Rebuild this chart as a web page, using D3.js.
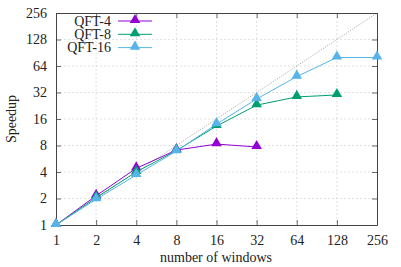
<html>
<head>
<meta charset="utf-8">
<script src="https://d3js.org/d3.v7.min.js"></script>
<style>
  body { margin: 0; background: white; }
  text { font-family: "Liberation Serif", "DejaVu Serif", serif; font-size: 14px; fill: #222; }
</style>
</head>
<body>
<div id="chart"></div>
<script>
var width = 401, height = 267

// data
var windows = [1, 2, 4, 8, 16, 32, 64, 128, 256]
var ticksY = [1, 2, 4, 8, 16, 32, 64, 128, 256]
var qft4 = [1, 2.15, 4.4, 7.1, 8.3, 7.7]
var qft8 = [1, 2.05, 4.0, 7.0, 13.3, 23, 28.5, 30]
var qft16 = [1, 1.96, 3.7, 6.9, 14.0, 27, 48.5, 80, 80]

var series = [
  { name: 'QFT-4', color: '#9400d3', values: qft4 },
  { name: 'QFT-8', color: '#009e73', values: qft8 },
  { name: 'QFT-16', color: '#56b4e9', values: qft16 }
]

var padL = 56, padR = 377, padT = 13, padB = 225

var x = d3.scaleLog().base(2).domain([1, 256]).range([padL, padR])
var y = d3.scaleLog().base(2).domain([1, 256]).range([padB, padT])

const svg = d3.select('#chart')
  .append('svg')
  .attr('width', width)
  .attr('height', height)

// grid
svg.append('g').selectAll('line').data(windows.slice(1, -1)).enter().append('line')
  .attr('x1', d => x(d)).attr('x2', d => x(d))
  .attr('y1', padT).attr('y2', padB)
  .attr('stroke', '#ccc').attr('stroke-width', 0.6).attr('stroke-dasharray', '2,2')
svg.append('g').selectAll('line').data(ticksY.slice(1, -1)).enter().append('line')
  .attr('y1', d => y(d)).attr('y2', d => y(d))
  .attr('x1', padL).attr('x2', padR)
  .attr('stroke', '#ccc').attr('stroke-width', 0.6).attr('stroke-dasharray', '2,2')

// ideal speedup
svg.append('line')
  .attr('x1', x(1)).attr('y1', y(1)).attr('x2', x(256)).attr('y2', y(256))
  .attr('stroke', '#888').attr('stroke-width', 0.8).attr('stroke-dasharray', '1,1.5')

// axes (gnuplot style, ticks inside and mirrored)
var tk = 5
var xb = svg.append('g').attr('transform', 'translate(0,' + padB + ')')
  .call(d3.axisBottom(x).tickValues(windows).tickFormat(d3.format('d')).tickSizeInner(-tk).tickSizeOuter(0).tickPadding(10))
var xt = svg.append('g').attr('transform', 'translate(0,' + padT + ')')
  .call(d3.axisTop(x).tickValues(windows).tickFormat('').tickSizeInner(-tk).tickSizeOuter(0))
var yl = svg.append('g').attr('transform', 'translate(' + padL + ',0)')
  .call(d3.axisLeft(y).tickValues(ticksY).tickFormat(d3.format('d')).tickSizeInner(-tk).tickSizeOuter(0).tickPadding(9))
var yr = svg.append('g').attr('transform', 'translate(' + padR + ',0)')
  .call(d3.axisRight(y).tickValues(ticksY).tickFormat('').tickSizeInner(-tk).tickSizeOuter(0))
;[xb, xt, yl, yr].forEach(function(g) {
  g.selectAll('path').attr('stroke', '#444').attr('stroke-width', 1)
  g.selectAll('line').attr('stroke', '#444').attr('stroke-width', 0.8)
  g.selectAll('text').attr('font-family', '"Liberation Serif", serif').attr('font-size', 13.5).attr('fill', '#222')
})

// series
var tri = d3.symbol().type(d3.symbolTriangle).size(48)
series.forEach(function(s) {
  var pts = s.values.map((v, i) => [windows[i], v])
  svg.append('path').datum(pts)
    .attr('fill', 'none').attr('stroke', s.color).attr('stroke-width', 1)
    .attr('d', d3.line().x(d => x(d[0])).y(d => y(d[1])))
  svg.append('g').selectAll('path').data(pts).enter().append('path')
    .attr('d', tri)
    .attr('transform', d => 'translate(' + x(d[0]) + ',' + (y(d[1]) - 1) + ')')
    .attr('fill', s.color)
})

// legend
series.forEach(function(s, i) {
  var ly = 21 + i * 13.3
  svg.append('text').attr('x', 111).attr('y', ly + 4.5).attr('text-anchor', 'end').text(s.name)
  svg.append('line').attr('x1', 118).attr('x2', 152).attr('y1', ly).attr('y2', ly)
    .attr('stroke', s.color).attr('stroke-width', 1)
  svg.append('path').attr('d', tri).attr('transform', 'translate(135,' + (ly - 1) + ')').attr('fill', s.color)
})

// axis titles
svg.append('text').attr('x', 216).attr('y', 262).attr('text-anchor', 'middle').text('number of windows')
svg.append('text').attr('transform', 'translate(16,119) rotate(-90)').attr('text-anchor', 'middle').text('Speedup')
</script>
</body>
</html>
